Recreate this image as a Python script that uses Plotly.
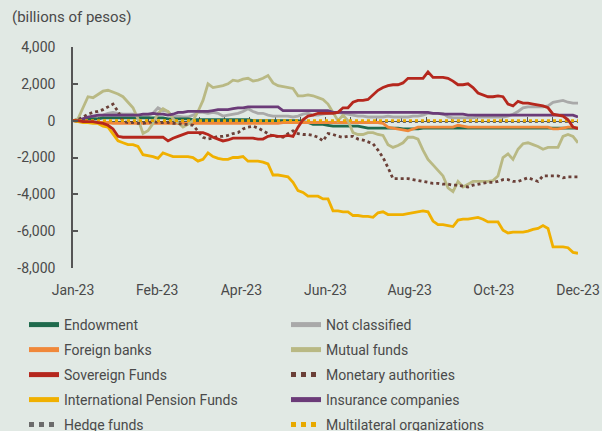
import plotly.graph_objects as go

# ---------------- data (billions of pesos), ~weekly sampling of a daily series ----------------
x_labels = ["Jan-23", "Feb-23", "Apr-23", "Jun-23", "Aug-23", "Oct-23", "Dec-23"]

endowment = [
    0, 0, 50, 100, 100, 100, 150, 150, 150, 150,
    150, 150, 150, 150, 150, 150, 150, 150, 150, 100,
    100, 100, 100, 100, 50, 50, 50, 50, 50, 50,
    50, 50, 50, 50, 50, 50, 0, 0, 0, 0,
    0, 0, 0, 0, 0, 0, -50, -100, -200, -200,
    -200, -250, -300, -300, -300, -300, -300, -300, -350, -400,
    -400, -400, -400, -400, -400, -400, -450, -450, -450, -450,
    -400, -400, -400, -400, -400, -400, -400, -400, -400, -400,
    -400, -400, -400, -400, -400, -400, -400, -400, -400, -400,
    -400, -400, -400, -400, -400, -400, -400, -400, -400, -400,
    -400, -400]

foreign_banks = [
    0, -50, -50, -100, -100, -100, -100, -100, -150, -150,
    -150, -150, -150, -150, -150, -150, -150, -150, -150, -150,
    -150, -150, -150, -150, -150, -150, -150, -150, -150, -150,
    -150, -150, -150, -150, -150, -150, -150, -150, -150, -150,
    -150, -150, -100, -100, -100, -100, -100, -100, -100, -100,
    -100, -100, -100, -100, -100, -100, -100, -100, -100, -100,
    -100, -100, -150, -350, -400, -450, -500, -550, -450, -350,
    -350, -350, -350, -350, -350, -350, -350, -250, -300, -350,
    -350, -350, -350, -350, -350, -350, -350, -350, -350, -350,
    -350, -350, -350, -350, -350, -350, -450, -450, -400, -350,
    -350, -400]

sovereign_funds = [
    0, 0, -50, -50, -50, -100, -150, -250, -450, -850,
    -900, -900, -900, -900, -900, -900, -900, -900, -900, -1100,
    -950, -850, -750, -650, -650, -650, -650, -750, -900, -1000,
    -1100, -1050, -950, -950, -950, -950, -950, -1000, -1000, -850,
    -800, -850, -850, -800, -850, -350, 50, 250, 300, 400,
    400, 400, 400, 450, 700, 700, 1000, 1100, 1100, 1150,
    1400, 1650, 1800, 1900, 1950, 1950, 2050, 2300, 2300, 2300,
    2300, 2650, 2350, 2350, 2350, 2300, 2150, 1950, 1950, 2000,
    1800, 1500, 1400, 1300, 1300, 1350, 1300, 900, 800, 1050,
    950, 950, 900, 850, 800, 700, 350, 300, 250, 50,
    -350, -430]

pension_funds = [
    0, -50, -100, -100, -150, -150, -300, -350, -700, -1100,
    -1200, -1300, -1300, -1400, -1850, -1900, -1950, -2050, -1750, -1850,
    -1950, -1950, -1950, -1950, -2000, -2200, -2100, -1750, -1950, -2050,
    -2100, -2100, -2000, -2000, -1950, -2200, -2200, -2200, -2250, -2350,
    -2950, -2950, -3000, -3050, -3350, -3800, -3900, -4100, -4100, -4100,
    -4250, -4250, -4900, -4900, -4950, -4950, -5150, -5150, -5200, -5200,
    -5250, -5000, -4950, -5100, -5100, -5100, -5100, -5050, -5000, -4950,
    -4900, -4950, -5450, -5650, -5650, -5700, -5750, -5400, -5350, -5350,
    -5300, -5250, -5350, -5500, -5500, -5500, -5950, -6100, -6050, -6050,
    -6050, -6000, -5900, -5850, -5700, -5850, -6850, -6850, -6850, -6900,
    -7150, -7200]

hedge_funds = [
    0, 0, -50, -50, -50, -50, -50, -50, -50, -50,
    -50, -50, -50, -50, -50, -50, -50, -50, -50, -50,
    -50, -50, -50, -50, -50, -50, -50, -50, -50, -50,
    -50, -50, -50, -50, -50, -50, -50, -50, -50, -50,
    -50, -50, -50, -50, -50, -50, -50, -50, -50, -50,
    -50, -50, -50, -50, -50, -50, -50, -50, -50, -50,
    -50, -50, -50, -50, -50, -50, -50, -50, -50, -50,
    -50, -50, -50, -50, -50, -50, -50, -50, -50, -50,
    -50, -50, -50, -50, -50, -50, -50, -50, -50, -50,
    -50, -50, -50, -50, -50, -50, -50, -50, -50, -50,
    -50, -50]

not_classified = [
    0, 50, 100, 150, 200, 250, 300, 400, 450, 400,
    350, 350, 350, 300, 250, 250, 400, 700, 550, 500,
    200, 250, 200, 200, 300, 450, 450, 400, 450, 400,
    250, 300, 350, 400, 500, 650, 500, 400, 400, 300,
    250, 250, 250, 250, 200, 250, 350, 400, 300, 300,
    350, 400, 450, 450, 400, 350, 300, 250, 250, 200,
    200, 200, 200, 250, 200, 200, 200, 200, 250, 250,
    300, 400, 400, 400, 400, 200, 150, 150, 150, 150,
    150, 200, 200, 200, 200, 200, 200, 250, 350, 500,
    700, 750, 750, 750, 750, 800, 1000, 1050, 1100, 1000,
    950, 950]

mutual_funds = [
    0, 100, 700, 1300, 1250, 1450, 1600, 1650, 1550, 1450,
    1300, 1000, 700, 100, -700, -550, -150, 400, 650, 500,
    100, -100, -350, -200, 0, 500, 1100, 2000, 1800, 1850,
    1900, 2000, 2200, 2150, 2250, 2300, 2150, 2200, 2300, 2450,
    2050, 1900, 1850, 1800, 1750, 1350, 1350, 1400, 1350, 1250,
    1150, 900, 450, 0, 300, 0, -650, -750, -750, -650,
    -650, -750, -800, -1300, -1450, -1350, -1200, -900, -900, -1000,
    -1600, -2100, -2400, -2700, -3000, -3650, -3850, -3300, -3600, -3450,
    -3300, -3300, -3300, -3300, -3250, -3000, -2000, -1800, -2100, -1550,
    -1250, -1200, -1300, -1400, -1550, -1450, -1450, -1450, -850, -750,
    -850, -1200]

monetary_authorities = [
    0, 50, 200, 350, 450, 500, 600, 750, 900, 500,
    -50, -100, -100, -150, -150, -100, -50, -100, -100, -100,
    -150, -150, -200, -200, -250, -600, -900, -1000, -950, -850,
    -850, -800, -700, -650, -450, -350, -300, -400, -550, -700,
    -850, -850, -900, -700, -550, -700, -750, -750, -800, -900,
    -1100, -700, -750, -850, -900, -850, -850, -1000, -1050, -1150,
    -1250, -1600, -2000, -2550, -3150, -3150, -3150, -3150, -3200, -3250,
    -3300, -3350, -3400, -3400, -3450, -3450, -3500, -3500, -3550, -3600,
    -3500, -3450, -3400, -3350, -3350, -3300, -3200, -3200, -3300, -3300,
    -3200, -3100, -3200, -3300, -3000, -3000, -3000, -3000, -3100, -3050,
    -3050, -3050]

insurance = [
    0, -50, 100, 200, 250, 300, 300, 300, 300, 300,
    300, 300, 300, 300, 350, 350, 400, 350, 350, 300,
    350, 450, 450, 500, 500, 500, 500, 500, 550, 600,
    600, 600, 650, 700, 700, 750, 750, 750, 750, 750,
    750, 750, 550, 550, 550, 550, 550, 550, 550, 550,
    550, 550, 450, 450, 450, 450, 450, 450, 450, 450,
    450, 450, 450, 450, 450, 450, 450, 450, 450, 450,
    450, 450, 400, 400, 350, 350, 350, 350, 350, 300,
    300, 300, 300, 300, 300, 300, 300, 300, 300, 300,
    300, 300, 300, 300, 300, 300, 300, 300, 300, 300,
    300, 200]

multilateral = [
    0, 0, 0, 0, 0, 0, 0, 0, 0, 0,
    0, 0, 0, 0, 0, 0, 0, 0, 0, 0,
    0, 0, 0, 0, 0, 0, 0, 0, 0, 0,
    0, 0, 0, 0, 0, 0, 0, 0, 0, 0,
    0, 0, 0, 0, 0, 0, 0, 0, 0, 0,
    0, 0, 0, 0, 0, 0, 0, 0, 0, 0,
    0, 0, 0, 0, 0, 0, 0, 0, 0, 0,
    0, 0, 0, 0, 0, 0, 0, 0, 0, 0,
    0, 0, 0, 0, 0, 0, 0, 0, 0, 0,
    0, 0, 0, 0, 0, 0, 0, 0, 0, 0,
    0, 0]

series = {
    "endowment": endowment, "foreign": foreign_banks, "sovereign": sovereign_funds,
    "pension": pension_funds, "hedge": hedge_funds, "notclass": not_classified,
    "mutual": mutual_funds, "monetary": monetary_authorities, "insurance": insurance,
    "multilateral": multilateral,
}
for k, v in series.items():
    assert len(v) == 102, (k, len(v))

n = len(endowment)
x = list(range(n))
last = n - 1

# ---------------- styles ----------------
BG = "#e1e9e4"
TXT = "#4a4a4a"
AX = "#555555"
FONT = "Roboto"

# (name, data, color, dash, legend, rank)
specs = [
    ("Hedge funds", hedge_funds, "#6b6b6b", "dot", "legend", 5),
    ("Not classified", not_classified, "#a9a9a9", "solid", "legend2", 1),
    ("Endowment", endowment, "#1f6a4c", "solid", "legend", 1),
    ("Foreign banks", foreign_banks, "#f0883a", "solid", "legend", 2),
    ("Mutual funds", mutual_funds, "#b9b984", "solid", "legend2", 2),
    ("Monetary authorities", monetary_authorities, "#6b4038", "dot", "legend2", 3),
    ("Insurance companies", insurance, "#6b3b78", "solid", "legend2", 4),
    ("Multilateral organizations", multilateral, "#e8a900", "dot", "legend2", 5),
    ("International Pension Funds", pension_funds, "#f0b000", "solid", "legend", 4),
    ("Sovereign Funds", sovereign_funds, "#b5271d", "solid", "legend", 3),
]

fig = go.Figure()
for name, data, color, dash, leg, rank in specs:
    fig.add_trace(go.Scatter(
        x=x, y=data, name=name, mode="lines",
        line=dict(color=color, width=2.8, dash=dash),
        legend=leg, legendgroup=name, legendrank=rank,
        hoverinfo="skip",
    ))

tick_pos = [last * k / (len(x_labels) - 1) for k in range(len(x_labels))]
minor_pos = [last * k / 20 for k in range(21)]
yvals = [-8000, -6000, -4000, -2000, 0, 2000, 4000]
ytext = ["-8,000", "-6,000", "-4,000", "-2,000", "0", "2,000", "4,000"]

legend_common = dict(
    orientation="v", traceorder="grouped", tracegroupgap=3.8,
    font=dict(family=FONT, size=14, color=TXT),
    bgcolor="rgba(0,0,0,0)", itemwidth=30, itemsizing="constant",
    xref="container", yref="container", yanchor="top", xanchor="left",
)

fig.update_layout(
    width=602, height=431,
    paper_bgcolor=BG, plot_bgcolor=BG,
    margin=dict(l=73, r=24, t=47, b=163, autoexpand=False),
    font=dict(family=FONT, size=14, color=TXT),
    xaxis=dict(
        range=[0, last], tickvals=tick_pos, ticktext=x_labels,
        showgrid=False, zeroline=False, showline=False, ticks="",
        ticklabelstandoff=12, tickfont=dict(size=14, color=TXT),
        automargin=False,
    ),
    xaxis2=dict(
        overlaying="x", anchor="free", position=8000 / 12000, side="bottom",
        range=[0, last], tickvals=minor_pos, showticklabels=False,
        showgrid=False, zeroline=False, showline=True, linecolor=AX, linewidth=1,
        ticks="inside", ticklen=4, tickcolor=AX, tickwidth=1, layer="below traces",
    ),
    yaxis=dict(
        range=[-8000, 4000], tickvals=yvals, ticktext=ytext,
        showgrid=False, zeroline=False, showline=True, linecolor=AX, linewidth=1.5,
        ticks="inside", ticklen=5, tickcolor=AX, tickwidth=1.5,
        ticklabelstandoff=13, tickfont=dict(size=14, color=TXT),
        automargin=False,
    ),
    legend=dict(x=24 / 602, y=1 - 309 / 431, **legend_common),
    legend2=dict(x=286 / 602, y=1 - 309 / 431, **legend_common),
    annotations=[dict(
        text="(billions of pesos)", xref="paper", yref="paper",
        x=-63 / 505, y=1 + 30 / 221, xanchor="left", yanchor="middle",
        showarrow=False, font=dict(family=FONT, size=15, color=TXT),
    )],
)

# phantom trace so the zero-line axis (xaxis2) is rendered
fig.add_trace(go.Scatter(x=[0], y=[0], xaxis="x2", mode="lines", showlegend=False,
                         line=dict(width=0), hoverinfo="skip"))

fig.write_html(
    "out.html",
    config={"displayModeBar": False},
    post_script="document.body.style.margin='0';document.body.style.background='%s';" % BG,
)
